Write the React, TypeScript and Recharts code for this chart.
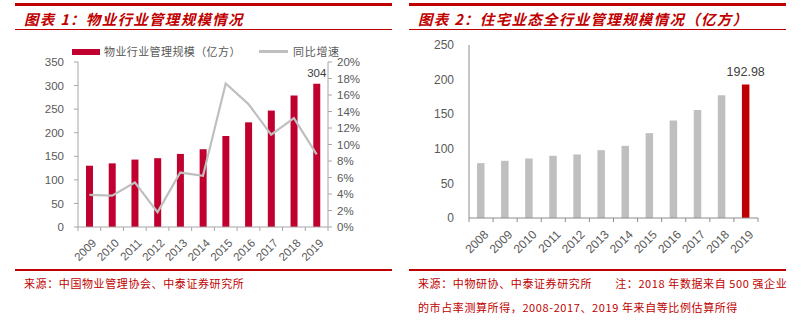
import React from 'react';
import { ComposedChart, BarChart, Bar, Line, XAxis, YAxis, LabelList, Cell } from 'recharts';

const years1 = ['2009', '2010', '2011', '2012', '2013', '2014', '2015', '2016', '2017', '2018', '2019'];
const scale1 = [130, 135, 143, 146, 155, 165, 193, 222, 247, 279, 304];
const growth1 = [3.9, 3.8, 5.4, 1.8, 6.6, 6.2, 17.4, 14.9, 11.2, 13.2, 8.8];
const leftTicks = [0, 50, 100, 150, 200, 250, 300, 350];
const rightTicks = [0, 2, 4, 6, 8, 10, 12, 14, 16, 18, 20];

const years2 = ['2008', '2009', '2010', '2011', '2012', '2013', '2014', '2015', '2016', '2017', '2018', '2019'];
const scale2 = [79.3, 82.6, 86, 89.9, 91.8, 98, 104.3, 122.6, 140.8, 156.2, 177.4, 192.98];
const ticks2 = [0, 50, 100, 150, 200, 250];

const data1 = years1.map((y, i) => ({
  year: y,
  scale: scale1[i],
  growth: growth1[i],
  label: i === years1.length - 1 ? String(scale1[i]) : undefined,
}));
const data2 = years2.map((y, i) => ({
  year: y,
  scale: scale2[i],
  label: i === years2.length - 1 ? scale2[i].toFixed(2) : undefined,
}));

const RED = '#C00000';
const BAR1 = '#C0002F';
const GRAY = '#BFBFBF';
const TXT = '#595959';
const NUMFONT = '"Liberation Sans", Arial, sans-serif';
const CJK = '"Noto Sans CJK SC", sans-serif';

const X_TICK_SIZE = 4;
const X_TICK_MARGIN = 7;

const makeXTick = (axisColor: string, fontSize: number, fallbackOff: number, isLast: (i: number) => boolean) => (props: any) => {
  const { x, y, payload, index } = props;
  const off = payload && typeof payload.offset === 'number' ? payload.offset : fallbackOff;
  const ay = y - X_TICK_SIZE - X_TICK_MARGIN;
  return (
    <g>
      <line x1={x - off} x2={x - off} y1={ay} y2={ay + X_TICK_SIZE} stroke={axisColor} strokeWidth={1} />
      {isLast(index) ? <line x1={x + off} x2={x + off} y1={ay} y2={ay + X_TICK_SIZE} stroke={axisColor} strokeWidth={1} /> : null}
      <text
        x={x + 2}
        y={y}
        transform={`rotate(-45, ${x + 2}, ${y})`}
        textAnchor="end"
        dominantBaseline="hanging"
        fontSize={fontSize}
        fontFamily={NUMFONT}
        fill={TXT}
      >
        {payload.value}
      </text>
    </g>
  );
};

const Header = ({ left, width, title }: { left: number; width: number; title: string }) => (
  <>
    <div style={{ position: 'absolute', left, top: 3, width, height: 3, background: RED }} />
    <div
      style={{
        position: 'absolute',
        left: left + 9,
        top: 9,
        fontFamily: CJK,
        fontWeight: 700,
        fontStyle: 'italic',
        fontSize: 14.5,
        letterSpacing: 1.3,
        color: RED,
        whiteSpace: 'nowrap',
        lineHeight: '20px',
      }}
    >
      {title}
    </div>
    <div style={{ position: 'absolute', left, top: 29, width, height: 1, background: RED }} />
    <div style={{ position: 'absolute', left, top: 269, width, height: 1.5, background: RED }} />
  </>
);

const srcStyle: React.CSSProperties = {
  position: 'absolute',
  fontFamily: CJK,
  fontSize: 11,
  letterSpacing: 0.6,
  color: RED,
  whiteSpace: 'nowrap',
  lineHeight: '14px',
};

export default function App() {
  const lastIdx1 = years1.length - 1;
  const lastIdx2 = years2.length - 1;
  return (
    <div style={{ position: 'absolute', left: 0, top: 0, width: 802, height: 326, background: '#fff', overflow: 'hidden' }}>
      <Header left={15} width={377} title="图表 1：物业行业管理规模情况" />
      <Header left={409} width={377} title="图表 2：住宅业态全行业管理规模情况（亿方）" />

      <div style={{ position: 'absolute', left: 72, top: 49, width: 28, height: 6, background: BAR1 }} />
      <div style={{ position: 'absolute', left: 104, top: 44, fontFamily: CJK, fontSize: 11, letterSpacing: 0.4, color: TXT, whiteSpace: 'nowrap', lineHeight: '14px' }}>
        物业行业管理规模（亿方）
      </div>
      <div style={{ position: 'absolute', left: 259, top: 50, width: 29, height: 2.5, background: GRAY }} />
      <div style={{ position: 'absolute', left: 293, top: 44, fontFamily: CJK, fontSize: 11, letterSpacing: 0.7, color: TXT, whiteSpace: 'nowrap', lineHeight: '14px' }}>
        同比增速
      </div>

      <div style={{ position: 'absolute', left: 0, top: 0 }}>
        <ComposedChart width={400} height={270} data={data1} margin={{ top: 62, right: 22, bottom: 3, left: 0 }}>
          <XAxis
            dataKey="year"
            height={40}
            axisLine={{ stroke: '#A6A6A6' }}
            tickLine={false}
            tickSize={X_TICK_SIZE}
            tickMargin={X_TICK_MARGIN}
            interval={0}
            tick={makeXTick('#A6A6A6', 11.5, 11.36, (i) => i === lastIdx1)}
          />
          <YAxis
            yAxisId="left"
            width={78}
            domain={[0, 350]}
            ticks={leftTicks}
            interval={0}
            axisLine={{ stroke: '#A6A6A6' }}
            tickLine={{ stroke: '#A6A6A6' }}
            tickSize={4}
            tickMargin={10}
            tick={{ fontSize: 11.5, fontFamily: NUMFONT, fill: TXT }}
          />
          <YAxis
            yAxisId="right"
            orientation="right"
            width={50}
            domain={[0, 20]}
            ticks={rightTicks}
            interval={0}
            tickFormatter={(v: number) => `${v}%`}
            axisLine={{ stroke: '#A6A6A6' }}
            tickLine={{ stroke: '#A6A6A6' }}
            tickSize={4}
            tickMargin={5}
            tick={{ fontSize: 11.5, fontFamily: NUMFONT, fill: TXT }}
          />
          <Bar yAxisId="left" dataKey="scale" fill={BAR1} barSize={7} isAnimationActive={false}>
            <LabelList dataKey="label" position="top" offset={7} fontSize={11.5} fontFamily={NUMFONT} fill="#404040" />
          </Bar>
          <Line yAxisId="right" dataKey="growth" stroke={GRAY} strokeWidth={2.2} dot={false} isAnimationActive={false} />
        </ComposedChart>
      </div>

      <div style={{ position: 'absolute', left: 400, top: 0 }}>
        <BarChart width={402} height={270} data={data2} margin={{ top: 45, right: 44, bottom: 4, left: 0 }}>
          <XAxis
            dataKey="year"
            height={48}
            axisLine={{ stroke: '#8C8C8C' }}
            tickLine={false}
            tickSize={X_TICK_SIZE}
            tickMargin={X_TICK_MARGIN}
            interval={0}
            tick={makeXTick('#8C8C8C', 12, 12.04, (i) => i === lastIdx2)}
          />
          <YAxis
            width={69}
            domain={[0, 250]}
            ticks={ticks2}
            interval={0}
            axisLine={{ stroke: '#8C8C8C' }}
            tickLine={false}
            tickSize={0}
            tickMargin={15}
            tick={{ fontSize: 12, fontFamily: NUMFONT, fill: TXT }}
          />
          <Bar dataKey="scale" barSize={7.5} isAnimationActive={false}>
            {data2.map((d, i) => (
              <Cell key={d.year} fill={i === lastIdx2 ? RED : GRAY} />
            ))}
            <LabelList dataKey="label" position="top" offset={8} fontSize={12.5} fontFamily={NUMFONT} fill="#404040" />
          </Bar>
        </BarChart>
      </div>

      <div style={{ ...srcStyle, left: 24, top: 276 }}>来源：中国物业管理协会、中泰证券研究所</div>
      <div style={{ ...srcStyle, left: 418, top: 276 }}>来源：中物研协、中泰证券研究所　　注：2018 年数据来自 500 强企业</div>
      <div style={{ ...srcStyle, left: 418, top: 300 }}>的市占率测算所得，2008-2017、2019 年来自等比例估算所得</div>
    </div>
  );
}
